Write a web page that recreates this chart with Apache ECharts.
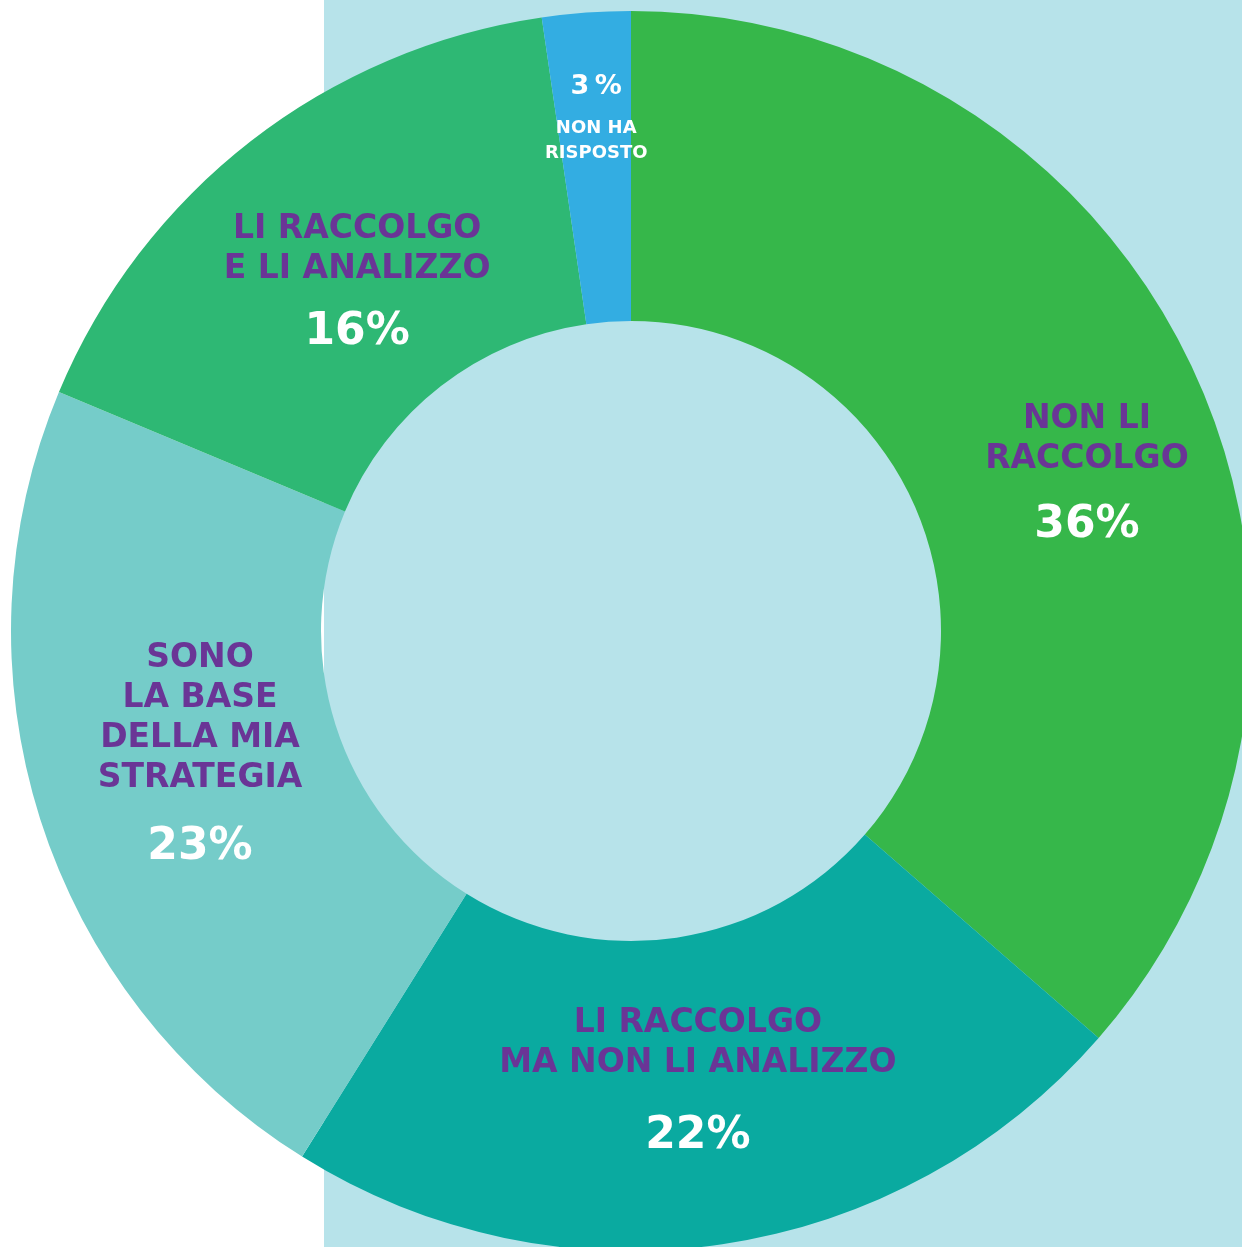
<!DOCTYPE html>
<html>
<head>
<meta charset="utf-8">
<script src="https://cdn.jsdelivr.net/npm/echarts@6/dist/echarts.min.js"></script>
<style>
html,body{margin:0;padding:0;background:#ffffff;}
#chart{width:1242px;height:1247px;}
</style>
</head>
<body>
<div id="chart"></div>
<script>
// ---- data ----
const categories = [
  'NON LI\nRACCOLGO',
  'LI RACCOLGO\nMA NON LI ANALIZZO',
  'SONO\nLA BASE\nDELLA MIA\nSTRATEGIA',
  'LI RACCOLGO\nE LI ANALIZZO',
  'NON HA\nRISPOSTO'
];
const values = [36.4, 22.5, 22.4, 16.4, 2.3];
const pctLabels = ['36%', '22%', '23%', '16%', '3\u2009%'];

// ---- styles ----
const colors = ['#36b74a', '#0aaaa0', '#75ccc9', '#2eb874', '#33ade2'];
const labelOffsets = [[30, 48], [-2, 3], [15, -5], [13, 31], [-1, -52]];
const pctLineHeights = [92, 106, 98, 86];
const FONT = "'DejaVu Sans', 'Liberation Sans', sans-serif";
const PURPLE = '#6a3596';

const rich = {
  c: { fontFamily: FONT, fontWeight: 'bold', fontSize: 33, color: PURPLE, lineHeight: 40, align: 'center' },
  cs: { fontFamily: FONT, fontWeight: 'bold', fontSize: 18, color: '#ffffff', lineHeight: 25, align: 'center' },
  ps: { fontFamily: FONT, fontWeight: 'bold', fontSize: 27, color: '#ffffff', lineHeight: 57, align: 'center' }
};
pctLineHeights.forEach((lh, i) => {
  rich['p' + i] = { fontFamily: FONT, fontWeight: 'bold', fontSize: 44, color: '#ffffff', lineHeight: lh, align: 'center' };
});

function formatLabel(params) {
  const i = params.dataIndex;
  const lines = categories[i].split('\n');
  if (i === 4) {
    return '{ps|' + pctLabels[i] + '}\n' + lines.map(l => '{cs|' + l + '}').join('\n');
  }
  return lines.map(l => '{c|' + l + '}').join('\n') + '\n{p' + i + '|' + pctLabels[i] + '}';
}

const chart = echarts.init(document.getElementById('chart'), null, { renderer: 'canvas' });
chart.setOption({
  animation: false,
  backgroundColor: '#ffffff',
  graphic: [{
    type: 'rect',
    z: -10,
    silent: true,
    shape: { x: 324, y: 0, width: 918, height: 1247 },
    style: { fill: '#b7e3ea' }
  }],
  series: [{
    type: 'pie',
    center: [631, 631],
    radius: [310, 620],
    startAngle: 90,
    clockwise: true,
    avoidLabelOverlap: false,
    silent: true,
    emphasis: { disabled: true },
    itemStyle: { borderWidth: 0 },
    label: {
      show: true,
      position: 'inside',
      formatter: formatLabel,
      rich: rich
    },
    labelLine: { show: false },
    labelLayout: function (params) {
      const o = labelOffsets[params.dataIndex];
      return { dx: o[0], dy: o[1] };
    },
    data: values.map((v, i) => ({
      name: categories[i],
      value: v,
      itemStyle: { color: colors[i] }
    }))
  }]
});
</script>
</body>
</html>
